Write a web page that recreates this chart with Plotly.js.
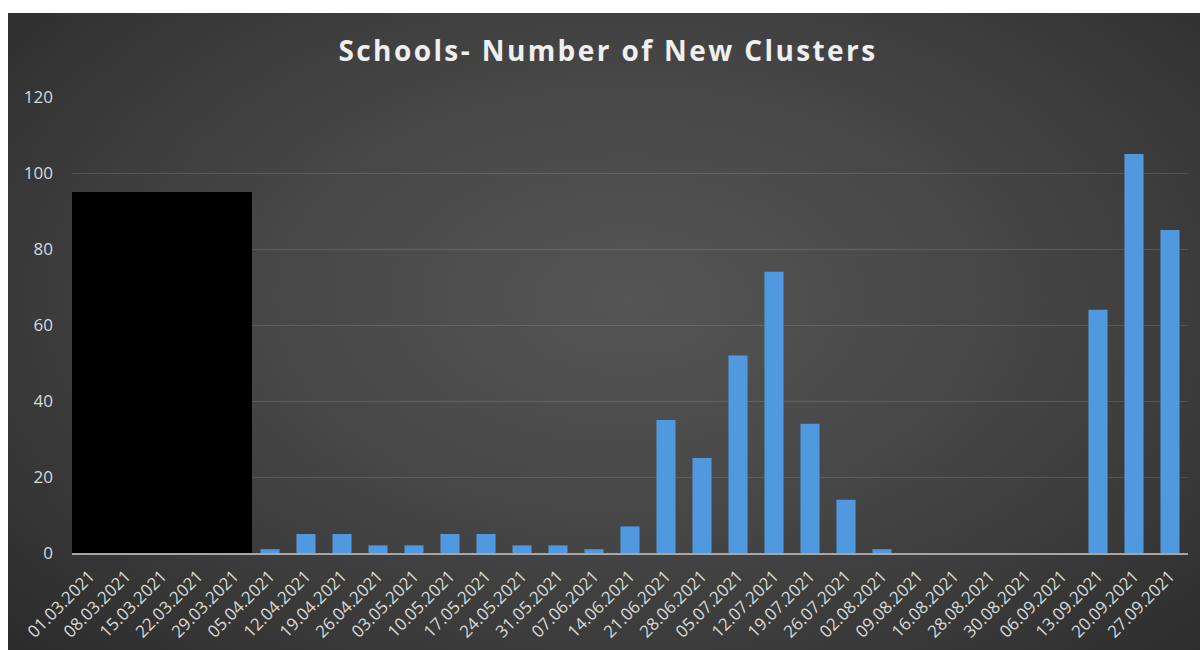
<!DOCTYPE html>
<html>
<head>
<meta charset="utf-8">
<script src="https://cdn.plot.ly/plotly-3.0.1.min.js"></script>
<style>
  html, body { margin: 0; padding: 0; background: #ffffff; width: 1200px; height: 650px; overflow: hidden; }
  #chart {
    position: absolute; left: 8px; top: 13px; width: 1192px; height: 637px;
    background: radial-gradient(ellipse 75% 85% at 52% 45%, #555555 0%, #474747 40%, #363636 75%, #282828 100%);
  }
  #chart .gtitle { letter-spacing: 2.4px; }
</style>
</head>
<body>
<div id="chart"></div>
<script>
const categories = ["01.03.2021","08.03.2021","15.03.2021","22.03.2021","29.03.2021","05.04.2021","12.04.2021","19.04.2021","26.04.2021","03.05.2021","10.05.2021","17.05.2021","24.05.2021","31.05.2021","07.06.2021","14.06.2021","21.06.2021","28.06.2021","05.07.2021","12.07.2021","19.07.2021","26.07.2021","02.08.2021","09.08.2021","16.08.2021","28.08.2021","30.08.2021","06.09.2021","13.09.2021","20.09.2021","27.09.2021"];
// first five weeks are covered by a black box in the source (values not visible)
const newClusters = [null,null,null,null,null,1,5,5,2,2,5,5,2,2,1,7,35,25,52,74,34,14,1,0,0,0,0,0,64,105,85];
const redactedCategories = categories.slice(0, 5);
const redactedHeight = [95, 95, 95, 95, 95];
const yTicks = [0, 20, 40, 60, 80, 100, 120];

const traces = [
  {
    type: "bar", x: categories, y: newClusters,
    marker: { color: "#5199de", line: { width: 0 } },
    hoverinfo: "skip"
  },
  {
    type: "bar", x: redactedCategories, y: redactedHeight, width: 1,
    marker: { color: "#000000", line: { width: 0 } },
    hoverinfo: "skip"
  }
];

const layout = {
  width: 1192, height: 637,
  margin: { l: 64, r: 12, t: 84, b: 97 },
  paper_bgcolor: "rgba(0,0,0,0)",
  plot_bgcolor: "rgba(0,0,0,0)",
  showlegend: false,
  barmode: "overlay",
  bargap: 0.47,
  font: { family: "Open Sans, sans-serif", color: "#d9d9d9", size: 16 },
  title: {
    text: "<b>Schools- Number of New Clusters</b>",
    font: { family: "Open Sans, sans-serif", size: 28, color: "#efefef" },
    x: 0.5 + 4 / 1192, xref: "container", xanchor: "center",
    y: 1 - 38 / 637, yref: "container", yanchor: "middle"
  },
  xaxis: {
    type: "category",
    categoryorder: "array", categoryarray: categories,
    tickangle: -45,
    showline: true, linecolor: "#a6a6a6", linewidth: 1.5,
    showgrid: false, ticks: "",
    ticklabelstandoff: 5,
    tickfont: { size: 17, color: "#d9d9d9" },
    range: [-0.5, categories.length - 0.5],
    fixedrange: true
  },
  yaxis: {
    range: [0, 120],
    tickvals: yTicks,
    ticktext: yTicks.map(String),
    showgrid: true, gridcolor: "rgba(255,255,255,0.13)", gridwidth: 1,
    zeroline: false, showline: false, ticks: "",
    ticklabelstandoff: 18,
    tickfont: { size: 17, color: "#d9d9d9" },
    fixedrange: true
  }
};

Plotly.newPlot("chart", traces, layout, { staticPlot: true, displayModeBar: false });
</script>
</body>
</html>
